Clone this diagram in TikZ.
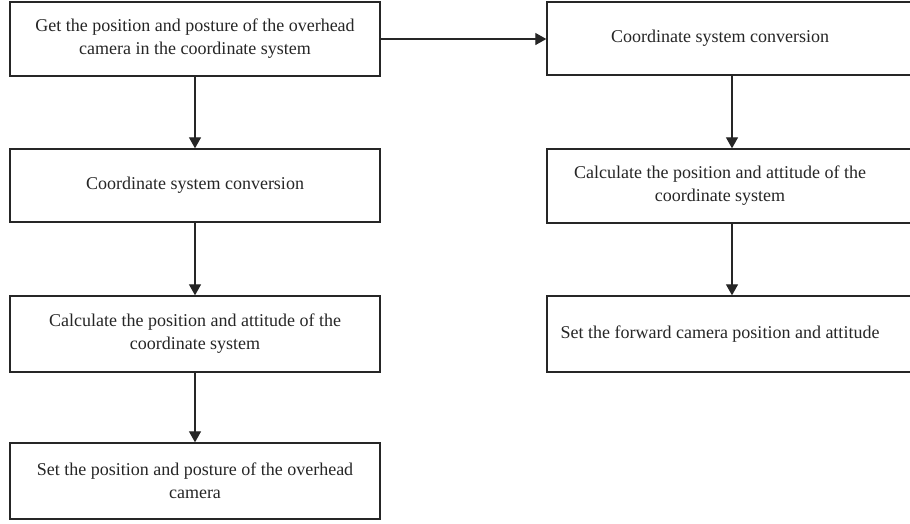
\documentclass[tikz,border=0pt]{standalone}
\usepackage{fontspec}
\setmainfont{Liberation Serif}
\usetikzlibrary{arrows.meta}
\begin{document}
\begin{tikzpicture}[x=1pt,y=-1pt,
  box/.style={draw=black!85, line width=1.4pt, minimum width=370pt, minimum height=74pt,
    inner sep=0pt, align=center, font=\fontsize{18}{23}\selectfont, text=black!85},
  rbox/.style={box, minimum width=370pt},
  txt/.style={align=center, font=\fontsize{18}{23}\selectfont, text=black!85, inner sep=0pt},
  arr/.style={draw=black!85, line width=1.3pt, -{Triangle[width=12pt,length=11pt]}}]
\clip (0,0) rectangle (910,523);
\fill[white] (0,0) rectangle (910,523);
% left column
\node[box, minimum height=74pt] (l1) at (195,39) {Get the position and posture of the overhead\\camera in the coordinate system};
\node[box, minimum height=73pt] (l2) at (195,185.5) {Coordinate system conversion};
\node[box, minimum height=76pt] (l3) at (195,334) {Calculate the position and attitude of the\\coordinate system};
\node[box, minimum height=76pt] (l4) at (195,481) {Set the position and posture of the overhead\\camera};
% right column
\node[rbox, minimum height=73pt] (r1) at (732,38.5) {};
\node[rbox, minimum height=74pt] (r2) at (732,186) {};
\node[rbox, minimum height=76pt] (r3) at (732,334) {};
\node[txt] (t1) at (720,38.5) {Coordinate system conversion};
\node[txt] (t2) at (720,186) {Calculate the position and attitude of the\\coordinate system};
\node[txt] (t3) at (720,334) {Set the forward camera position and attitude};
% connectors
\draw[arr] (l1) -- (l2);
\draw[arr] (l2) -- (l3);
\draw[arr] (l3) -- (l4);
\draw[arr] (l1.east |- 0,39) -- (r1.west |- 0,39);
\draw[arr] (r1) -- (r2);
\draw[arr] (r2) -- (r3);
\end{tikzpicture}
\end{document}
